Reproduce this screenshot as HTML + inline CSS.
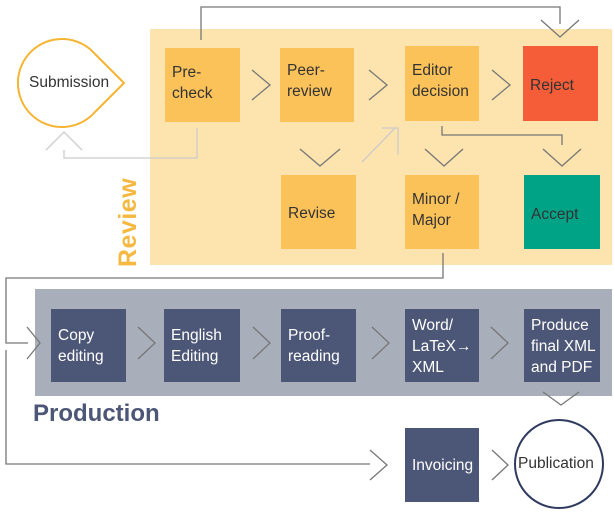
<!DOCTYPE html>
<html><head><meta charset="utf-8"><style>
html,body{margin:0;padding:0;background:#fff;}
body{width:614px;height:519px;overflow:hidden;position:relative;font-family:"Liberation Sans",sans-serif;}
.b{position:absolute;font-size:15.5px;line-height:21px;color:#333;box-sizing:border-box;padding:14px 0 0 7px;}
.o{background:#fcc25a;}
.d{background:#4c5677;color:#fff;}
</style></head><body>
<div style="position:absolute;left:150px;top:29px;width:462px;height:236px;background:#fde3ad"></div>
<div style="position:absolute;left:35px;top:289px;width:577px;height:107px;background:#a9aebb"></div>
<svg width="614" height="519" style="position:absolute;left:0;top:0" fill="none" stroke-width="1.3">
<g stroke="#777">
<polyline points="201,40 201,7 560,7 560,24"/>
<polyline points="541,20 560,37 579,20"/>
<polyline points="252,70 270,85 252,100"/>
<polyline points="369,70 387,85 369,100"/>
<polyline points="492,70 510,85 492,100"/>
<polyline points="300,149 320,166 340,149"/>
<polyline points="425,149 444,166 463,149"/>
<polyline points="543,149 562,166 581,149"/>
<polyline points="442,126 442,135 562,135 562,145"/>
<polyline points="443,253 443,278 6,278 6,343 28,343"/>
<polyline points="6,350 6,464 370,464"/>
<polyline points="27,327 40,343 27,359"/>
<polyline points="138,327 155,343 138,359"/>
<polyline points="253,327 270,343 253,359"/>
<polyline points="372,327 389,343 372,359"/>
<polyline points="491,327 508,343 491,359"/>
<polyline points="543,392 561,405 579,392"/>
<polyline points="370,450 387,465 370,480"/>
<polyline points="492,450 508,465 492,480"/>
</g>
<g stroke="#ccc">
<polyline points="197,128 197,158 64,158 64,150"/>
<polyline points="46,150 64,132 82,150"/>
<polyline points="362,162 395,128"/>
<polyline points="382,128 398,128 398,155"/>
</g>
<path d="M124,83 L95,112 A44,44 0 1 1 95,54 Z" stroke="#f5b431" stroke-width="2" fill="#fff" stroke-linejoin="round"/>
<circle cx="559" cy="464" r="44" stroke="#2e3a5e" stroke-width="2" fill="#fff"/>
</svg>
<div style="position:absolute;left:29px;top:74px;font-size:15.5px;color:#333">Submission</div>
<div style="position:absolute;left:518px;top:455px;font-size:15.5px;color:#333">Publication</div>
<div class="b o" style="left:165px;top:48px;width:75px;height:74px">Pre-<br>check</div>
<div class="b o" style="left:280px;top:48px;width:74px;height:74px;padding-top:12px">Peer-<br>review</div>
<div class="b o" style="left:405px;top:46px;width:74px;height:75px">Editor<br>decision</div>
<div class="b" style="left:523px;top:46px;width:75px;height:75px;background:#f55d38;padding-top:29px">Reject</div>
<div class="b o" style="left:281px;top:175px;width:75px;height:74px;padding-top:28px">Revise</div>
<div class="b o" style="left:405px;top:175px;width:74px;height:74px;padding-top:14px">Minor /<br>Major</div>
<div class="b" style="left:524px;top:175px;width:76px;height:74px;background:#00a386;padding-top:29px">Accept</div>
<div style="position:absolute;left:114px;top:267px;transform:rotate(-90deg);transform-origin:0 0;font-size:25px;font-weight:bold;color:#f5b841;letter-spacing:0.5px">Review</div>
<div class="b d" style="left:51px;top:309px;width:75px;height:73px;padding-top:16px">Copy<br>editing</div>
<div class="b d" style="left:164px;top:309px;width:76px;height:73px;padding-top:16px">English<br>Editing</div>
<div class="b d" style="left:281px;top:309px;width:75px;height:73px;padding-top:16px">Proof-<br>reading</div>
<div class="b d" style="left:405px;top:309px;width:74px;height:73px;padding-top:6px">Word/<br>LaTeX→<br>XML</div>
<div class="b d" style="left:524px;top:309px;width:76px;height:73px;padding-top:6px">Produce<br>final XML<br>and PDF</div>
<div class="b d" style="left:405px;top:428px;width:74px;height:74px;padding-top:27px">Invoicing</div>
<div style="position:absolute;left:33px;top:400px;font-size:24px;font-weight:bold;color:#4c5677">Production</div>
</body></html>
